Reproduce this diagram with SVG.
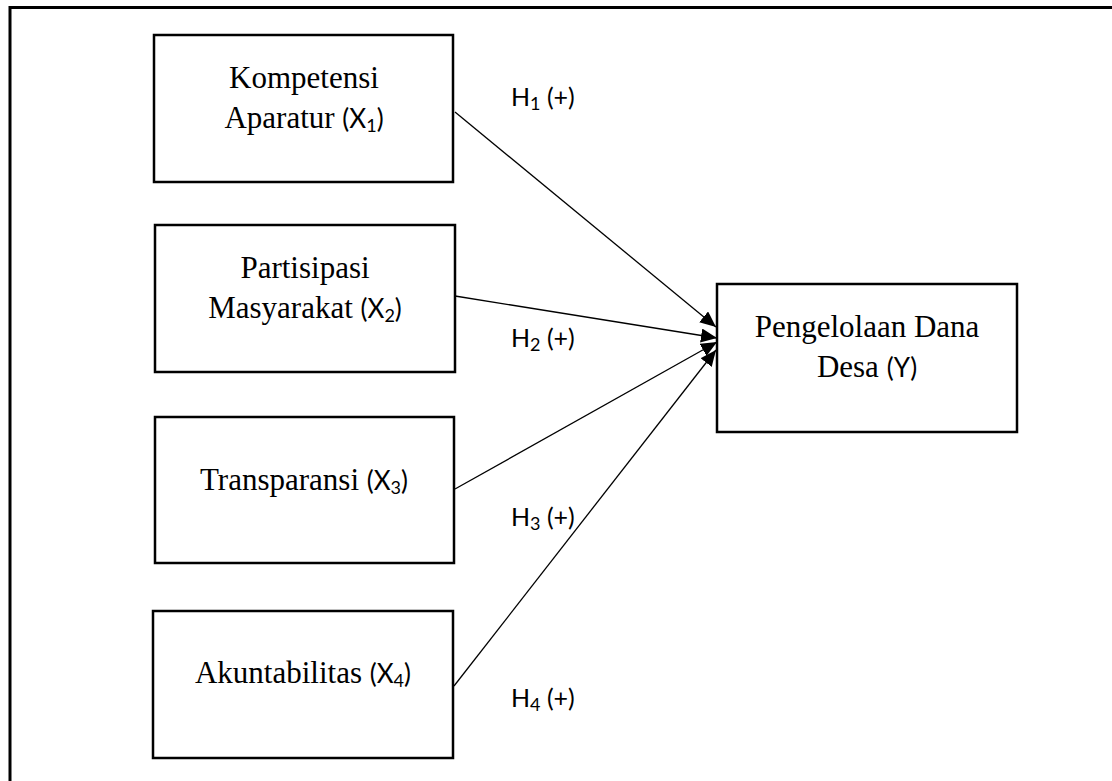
<svg xmlns="http://www.w3.org/2000/svg" width="1112" height="781" viewBox="0 0 1112 781">
<style>
.box{fill:#fff;stroke:#000;stroke-width:2.5}
.lbl{font-family:"Liberation Serif","Times New Roman",serif;font-size:31px;fill:#000;text-anchor:middle}
.sans{font-family:Lato,"Liberation Sans",sans-serif;font-size:26px}
.sub{font-size:18px}
.h{font-family:Lato,"Liberation Sans",sans-serif;font-size:25px;fill:#000}
.con{stroke:#000;stroke-width:1.3;fill:none}
</style>
<defs>
<marker id="arr" markerUnits="userSpaceOnUse" markerWidth="18" markerHeight="16" refX="16" refY="7" orient="auto">
<path d="M0,0 L16,7 L0,14 Z" fill="#000"/>
</marker>
</defs>
<rect width="1112" height="781" fill="#fff"/>
<path d="M10,781 V7.5 H1112" fill="none" stroke="#000" stroke-width="3"/>
<g id="connectors">
<line class="con" x1="455" y1="112" x2="716" y2="327" marker-end="url(#arr)"/>
<line class="con" x1="455" y1="296" x2="717" y2="338" marker-end="url(#arr)"/>
<line class="con" x1="455" y1="489" x2="717" y2="342" marker-end="url(#arr)"/>
<line class="con" x1="454" y1="686" x2="716" y2="350" marker-end="url(#arr)"/>
</g>
<g id="x1">
<rect class="box" x="154" y="35" width="299" height="147"/>
<text class="lbl" x="304" y="88">Kompetensi</text>
<text class="lbl" x="304" y="128">Aparatur <tspan class="sans">(X<tspan class="sub" dy="4">1</tspan><tspan dy="-4">)</tspan></tspan></text>
</g>
<g id="x2">
<rect class="box" x="155" y="225" width="300" height="147"/>
<text class="lbl" x="305" y="278">Partisipasi</text>
<text class="lbl" x="305" y="318">Masyarakat <tspan class="sans">(X<tspan class="sub" dy="4">2</tspan><tspan dy="-4">)</tspan></tspan></text>
</g>
<g id="x3">
<rect class="box" x="155" y="417" width="299" height="146"/>
<text class="lbl" x="304" y="490">Transparansi <tspan class="sans">(X<tspan class="sub" dy="4">3</tspan><tspan dy="-4">)</tspan></tspan></text>
</g>
<g id="x4">
<rect class="box" x="153" y="611" width="300" height="147"/>
<text class="lbl" x="303" y="683">Akuntabilitas <tspan class="sans">(X<tspan class="sub" dy="4">4</tspan><tspan dy="-4">)</tspan></tspan></text>
</g>
<g id="y">
<rect class="box" x="717" y="284" width="300" height="148"/>
<text class="lbl" x="867" y="337">Pengelolaan Dana</text>
<text class="lbl" x="867" y="377">Desa <tspan class="sans">(Y)</tspan></text>
</g>
<g id="labels">
<text class="h" x="511" y="106">H<tspan class="sub" dy="4">1</tspan><tspan dy="-4"> (+)</tspan></text>
<text class="h" x="511" y="347">H<tspan class="sub" dy="4">2</tspan><tspan dy="-4"> (+)</tspan></text>
<text class="h" x="511" y="526">H<tspan class="sub" dy="4">3</tspan><tspan dy="-4"> (+)</tspan></text>
<text class="h" x="511" y="707">H<tspan class="sub" dy="4">4</tspan><tspan dy="-4"> (+)</tspan></text>
</g>
</svg>
